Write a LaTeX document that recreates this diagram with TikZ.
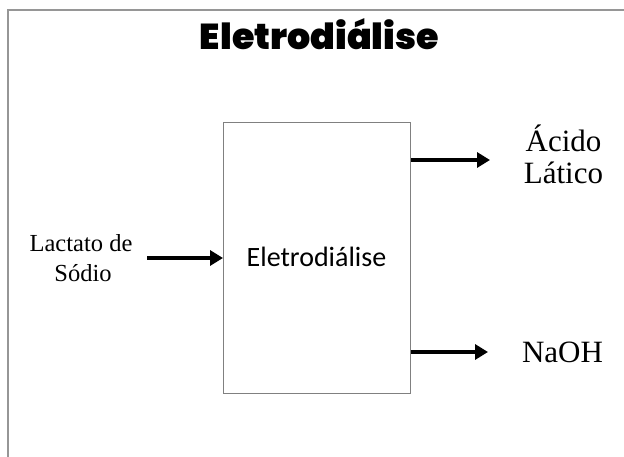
\documentclass[tikz,border=0pt]{standalone}
\usepackage{fontspec}
\setmainfont{Liberation Serif}
\newfontfamily\boxfont{Carlito}
\newfontfamily\titlefont{Poppins Black}
\usetikzlibrary{arrows.meta}
\definecolor{framegray}{RGB}{150,150,150}
\definecolor{boxgray}{RGB}{128,128,128}
\tikzset{
  flow/.style={line width=4.5pt, -{Triangle[length=13pt,width=15pt]}},
  label/.style={font=\fontsize{31}{32}\selectfont, align=center, inner sep=0pt},
  inlabel/.style={font=\fontsize{24.5}{29}\selectfont, align=center, inner sep=0pt},
  process/.style={draw=boxgray, line width=1.3pt, minimum width=187pt, minimum height=271pt, inner sep=0pt, anchor=north west},
  frameline/.style={draw=framegray, line width=2pt}
}
\begin{document}
\begin{tikzpicture}[x=1pt,y=-1pt]
\useasboundingbox (0,0) rectangle (624,457);
% frame
\coordinate (fa) at (8,457);
\coordinate (fb) at (8,10);
\coordinate (fc) at (624,10);
\draw[frameline] (fa) -- (fb) -- (fc);
% title
\node[anchor=base, inner sep=0pt] (title) at (319.5,49.5)
  {\resizebox{239pt}{\height}{\titlefont\fontsize{36}{40}\selectfont Eletrodiálise}};
% process box
\node[process] (box) at (223,122) {};
\node[anchor=base, inner sep=0pt, font=\boxfont\fontsize{28}{32}\selectfont] (boxtext) at (316.5,267) {Eletrodiálise};
% input
\node[inlabel, anchor=base] (in1) at (81,252) {Lactato de};
\node[inlabel, anchor=base] (in2) at (83,281) {Sódio};
\coordinate (inStart) at (147,258);
\draw[flow] (inStart) -- (box.west |- inStart);
% outputs
\node[label, anchor=base] (out1a) at (563.5,152) {Ácido};
\node[label, anchor=base] (out1b) at (563.5,184) {Lático};
\node[label, anchor=base] (out2) at (562.5,362) {NaOH};
\coordinate (outEnd1) at (490,160);
\coordinate (outEnd2) at (488,352);
\draw[flow] (box.east |- outEnd1) -- (outEnd1);
\draw[flow] (box.east |- outEnd2) -- (outEnd2);
\end{tikzpicture}
\end{document}
